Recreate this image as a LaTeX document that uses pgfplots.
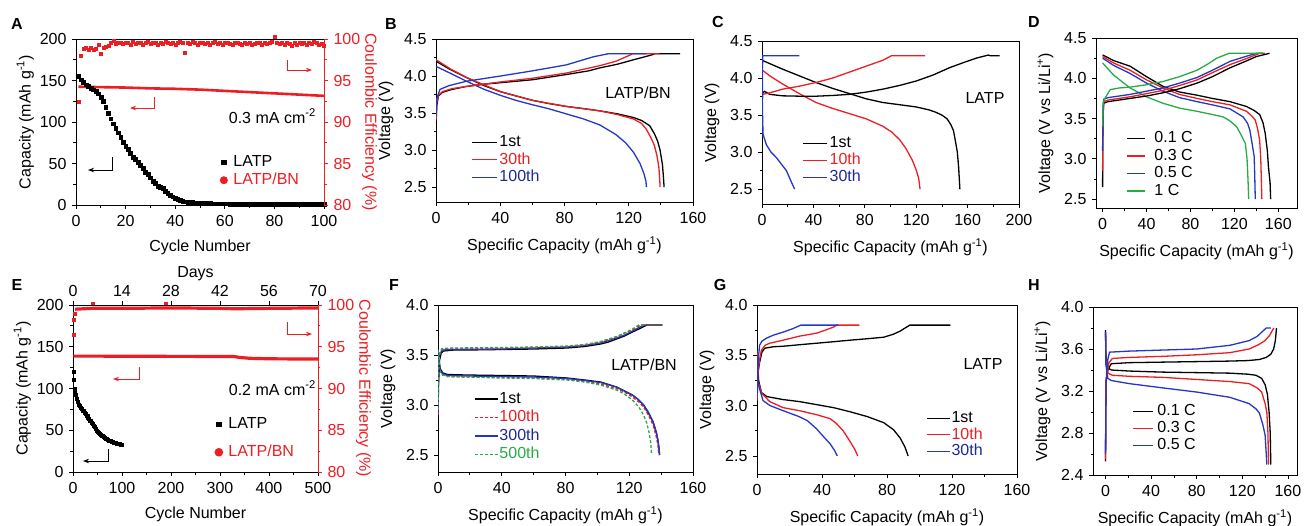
\documentclass[border=0pt]{standalone}
\usepackage{fontspec}
\setmainfont{Liberation Sans}
\setsansfont{Liberation Sans}
\usepackage{pgfplots}
\pgfplotsset{compat=1.18}
\usetikzlibrary{arrows.meta}
\definecolor{cred}{RGB}{235,30,35}
\definecolor{cblue}{RGB}{35,55,195}
\definecolor{tblue}{RGB}{30,40,150}
\definecolor{cgreen}{RGB}{40,170,70}
\newcommand\fs{\fontsize{16}{19}\selectfont}
\tikzset{cv/.style={line width=1.3pt, mark=none}}
\pgfplotsset{
  panel/.style={scale only axis, anchor=north west, font=\fs,
    tick label style={font=\fs}, label style={font=\fs},
    /pgf/number format/assume math mode=true,
    axis line style={line width=0.9pt}, tick style={line width=0.8pt, black},
    major tick length=4pt, minor tick length=2.5pt, tick align=outside,
    xtick pos=left, ytick pos=left, minor x tick num=1, minor y tick num=1,
    xticklabel style={yshift=-1pt}, xlabel style={yshift=-2pt},
    legend cell align=left,
    legend style={draw=none, fill=none, font=\fs, anchor=north west, inner sep=0pt,
      row sep=2.5pt, column sep=1pt, nodes={inner sep=1pt, text height=11pt, text depth=2pt}},
    legend image code/.code={\draw[##1] (0pt,0pt) -- (24pt,0pt);},
  },
  vfmt/.style={yticklabel style={/pgf/number format/.cd, fixed, fixed zerofill, precision=1}},
  caplabel/.style={xlabel={Specific Capacity (mAh g\textsuperscript{-1})}},
  redright/.style={axis x line=none, axis y line*=right, tick align=outside,
    ytick pos=right, yticklabel pos=right, ylabel shift=-9pt,
    ylabel={Coulombic Efficiency (\%)}, ylabel style={rotate=180, text=cred},
    y axis line style={cred}, ytick style={cred}, yticklabel style={text=cred},
    ymin=80, ymax=100, ytick={80,85,...,100}, clip=false},
  sqleg/.style={legend image code/.code={\draw[black, mark=square*, mark size=2.2pt] plot coordinates {(5pt,0pt)};}},
  ciyleg/.style={legend image code/.code={\draw[cred, fill=cred, mark=*, mark size=2.6pt] plot coordinates {(5pt,0pt)};}},
}
\begin{document}
\fs
\begin{tikzpicture}
% ---------------- A ----------------
\begin{axis}[panel, at={(76pt,-39pt)}, width=248pt, height=166pt,
  axis x line*=box, axis y line*=left, tick align=outside, ylabel shift=-5pt,
  xmin=0, xmax=100, ymin=0, ymax=200, xtick={0,20,...,100}, ytick={0,50,...,200},
  xlabel={Cycle Number}, ylabel={Capacity (mAh g\textsuperscript{-1})},
  legend style={at={(0.585,0.304)}, row sep=3pt, column sep=6pt}]
\addplot[only marks, mark=square*, mark size=1.9pt, black, sqleg] coordinates {
(1,155)(2,151)(3,148)(4,145)(5,143)(6,141)(7,139)(8,137)(9,134)(10,130)
(11,125)(12,118)(13,111)(14,104)(15,98)(16,93)(17,87)(18,82)(19,76)(20,71)
(21,67)(22,62)(23,58)(24,55)(25,52)(26,48)(27,44)(28,40)(29,37)(30,33)
(31,29)(32,26)(33,23)(34,21)(35,20)(36,17)(37,14)(38,12)(39,10)(40,8)
(41,7)(42,6)(43,5)(44,4)(45,3.5)(46,3)(47,3)(48,2.5)(49,2.5)(50,2)
(51,1.8)(52,1.8)(53,1.7)(54,1.7)(55,1.6)(56,1.6)(57,1.5)(58,1.5)(59,1.5)(60,1.5)
(61,1.5)(62,1.4)(63,1.4)(64,1.4)(65,1.4)(66,1.3)(67,1.3)(68,1.3)(69,1.3)(70,1.3)
(71,1.2)(72,1.2)(73,1.2)(74,1.2)(75,1.2)(76,1.2)(77,1.1)(78,1.1)(79,1.1)(80,1.1)
(81,1.1)(82,1.1)(83,1.0)(84,1.0)(85,1.0)(86,1.0)(87,1.0)(88,1.0)(89,1.0)(90,1.0)
(91,1.0)(92,1.0)(93,1.0)(94,1.0)(95,1.0)(96,1.0)(97,1.0)(98,1.0)(99,1.0)(100,1.0)};
\addlegendentry{LATP}
\addplot[cred, line width=2.6pt, mark=none, ciyleg] coordinates {
(1,142.5)(10,142)(20,141.5)(30,140.5)(40,140)(50,139)(60,137.5)(70,136)(80,134.5)(90,133)(100,131.5)};
\addlegendentry{\textcolor{cred}{LATP/BN}}
\end{axis}
\begin{axis}[panel, at={(76pt,-39pt)}, width=248pt, height=166pt, redright,
  xmin=0, xmax=100]
\addplot[only marks, mark=square*, mark size=1.5pt, cred] coordinates {
(1,92.5)(2,98.0)(3,98.8)(4,98.9)(5,98.7)(6,98.9)(7,98.7)(8,98.8)(9,99.3)(10,98.2)
(11,98.9)(12,99.1)(13,99.2)(14,99.5)(15,99.8)(16,99.4)(17,99.6)(18,99.5)(19,99.4)(20,99.6)
(21,99.5)(22,99.3)(23,99.7)(24,99.4)(25,99.5)(26,99.6)(27,99.3)(28,99.5)(29,99.7)(30,99.4)
(31,99.6)(32,99.5)(33,99.3)(34,99.6)(35,99.4)(36,99.7)(37,99.5)(38,99.4)(39,99.6)(40,99.3)
(41,99.5)(42,99.7)(43,99.5)(44,98.4)(45,99.6)(46,99.4)(47,99.7)(48,99.5)(49,99.3)(50,99.6)
(51,99.5)(52,99.4)(53,99.6)(54,99.3)(55,99.5)(56,99.7)(57,99.4)(58,99.5)(59,99.3)(60,99.6)
(61,99.5)(62,99.4)(63,99.3)(64,99.5)(65,99.6)(66,99.4)(67,99.3)(68,99.5)(69,99.4)(70,99.6)
(71,99.3)(72,99.4)(73,99.5)(74,99.6)(75,99.3)(76,99.5)(77,99.4)(78,99.6)(79,99.7)(80,100.3)
(81,99.5)(82,99.4)(83,99.6)(84,99.3)(85,99.5)(86,99.4)(87,99.2)(88,99.5)(89,99.3)(90,99.6)
(91,99.4)(92,99.5)(93,99.3)(94,99.6)(95,99.4)(96,99.7)(97,99.5)(98,99.3)(99,99.4)(100,99.2)};
\end{axis}
% ---------------- B ----------------
\begin{axis}[panel, vfmt, caplabel, at={(436pt,-39pt)}, width=257pt, height=163pt,
  xmin=0, xmax=160, ymin=2.3, ymax=4.5, xtick={0,40,...,160}, ytick={2.5,3,...,4.5},
  ylabel={Voltage (V)}, legend style={at={(0.136,0.414)}},
  legend image code/.code={\draw[#1] (0pt,0pt) -- (25pt,0pt);}]
\addplot[cv, black] coordinates {(0,4.2)(8.7,4.09)(19,3.98)(30,3.87)(40,3.79)(50,3.73)(60.5,3.67)(70,3.63)(81,3.59)(92,3.56)(102,3.53)(113,3.49)(123,3.44)(128,3.4)(133,3.33)(136,3.22)(138,3.12)(139.5,3.0)(141,2.8)(141.7,2.6)(142,2.5)};
\addlegendentry{1st}
\addplot[cv, cred] coordinates {(0,4.22)(8.7,4.1)(19,3.98)(40,3.79)(60.5,3.67)(81,3.59)(102,3.53)(113,3.48)(123,3.42)(128,3.36)(131,3.28)(134,3.16)(136,3.06)(137.5,2.93)(138.7,2.78)(139.3,2.6)(139.5,2.5)};
\addlegendentry{\textcolor{cred}{30th}}
\addplot[cv, cblue] coordinates {(0,4.13)(8.7,4.04)(19,3.93)(30,3.82)(40,3.74)(50,3.67)(60.5,3.61)(70,3.56)(81,3.49)(92,3.42)(102,3.34)(112,3.21)(118,3.1)(123,2.97)(127,2.82)(129.5,2.68)(130.7,2.58)(131,2.5)};
\addlegendentry{\textcolor{tblue}{100th}}
\addplot[cv, black, forget plot] coordinates {(0,3.33)(0.5,3.6)(1.5,3.73)(4,3.78)(10,3.82)(19,3.86)(30,3.89)(40,3.91)(60,3.95)(81,4.02)(95,4.07)(102,4.11)(113,4.16)(123,4.22)(130,4.26)(135,4.29)(136,4.3)(152,4.3)};
\addplot[cv, cred, forget plot] coordinates {(0,3.4)(0.5,3.65)(1.5,3.74)(4,3.79)(10,3.83)(19,3.86)(40,3.92)(60,3.97)(81,4.04)(102,4.14)(112,4.2)(121.5,4.29)(122,4.3)(139,4.3)};
\addplot[cv, cblue, forget plot] coordinates {(0,3.45)(0.5,3.7)(2.5,3.82)(8,3.87)(19,3.93)(40,4.0)(60,4.07)(81,4.15)(98,4.26)(107,4.3)(131,4.3)};
\end{axis}
% ---------------- C ----------------
\begin{axis}[panel, vfmt, caplabel, at={(762pt,-41pt)}, width=257pt, height=163pt,
  xmin=0, xmax=200, ymin=2.3, ymax=4.5, xtick={0,40,...,200}, ytick={2.5,3,...,4.5},
  ylabel={Voltage (V)}, legend style={at={(0.156,0.42)}, row sep=2pt}]
\addplot[cv, black] coordinates {(0,4.24)(8,4.18)(16,4.12)(29,4.03)(42,3.94)(55,3.86)(68,3.79)(81,3.72)(94,3.67)(107,3.64)(120,3.61)(130,3.57)(135,3.54)(140,3.5)(144,3.45)(147,3.37)(149,3.29)(150.5,3.15)(152,3.0)(153,2.8)(153.5,2.65)(154,2.5)};
\addlegendentry{1st}
\addplot[cv, cred] coordinates {(0.8,4.1)(6,4.03)(16,3.92)(29,3.79)(42,3.67)(55,3.59)(68,3.52)(81,3.45)(94,3.35)(101,3.27)(107,3.17)(112,3.05)(117,2.89)(120,2.76)(122,2.64)(123,2.5)};
\addlegendentry{\textcolor{cred}{10th}}
\addplot[cv, cblue] coordinates {(0,4.28)(0.3,3.6)(0.8,3.24)(3.4,3.1)(7,3.0)(11,2.93)(15,2.84)(19,2.75)(22,2.63)(25.4,2.5)};
\addlegendentry{\textcolor{tblue}{30th}}
\addplot[cv, black, forget plot] coordinates {(0,3.6)(0.5,3.8)(2,3.82)(6,3.78)(16,3.76)(30,3.755)(42,3.755)(55,3.765)(68,3.78)(81,3.81)(94,3.85)(107,3.9)(120,3.96)(133,4.04)(146,4.14)(157,4.21)(167,4.27)(176,4.31)(178,4.3)(185,4.3)};
\addplot[cv, cred, forget plot] coordinates {(0,3.7)(0.5,3.78)(6,3.8)(16,3.85)(29,3.89)(42,3.94)(55,4.0)(68,4.08)(81,4.16)(94,4.24)(100.6,4.3)(127,4.3)};
\addplot[cv, cblue, forget plot] coordinates {(0,3.2)(0.3,3.8)(0.5,4.3)(29,4.3)};
\end{axis}
% ---------------- D ----------------
\begin{axis}[panel, vfmt, caplabel, at={(1096pt,-38pt)}, width=201pt, height=170pt,
  xmin=-6, xmax=177, ymin=2.39, ymax=4.5, xtick={0,40,...,160}, ytick={2.5,3,...,4.5},
  ylabel={Voltage (V vs Li/Li\textsuperscript{+})},
  legend style={at={(0.149,0.455)}, row sep=2.5pt, column sep=8pt},
  legend image code/.code={\draw[#1] (0pt,0pt) -- (18pt,0pt);}]
\addplot[cv, black] coordinates {(0,4.29)(10,4.22)(25,4.15)(40,4.02)(55,3.9)(70,3.83)(86,3.79)(100,3.75)(116,3.71)(131,3.65)(138,3.6)(143,3.55)(146,3.45)(148,3.32)(150,3.1)(151,2.9)(152.5,2.7)(153,2.5)};
\addlegendentry{0.1 C}
\addplot[cv, cred] coordinates {(0,4.27)(10,4.19)(25,4.1)(40,3.98)(55,3.88)(70,3.8)(86,3.75)(100,3.71)(116,3.67)(131,3.59)(136,3.53)(139,3.48)(141,3.38)(143,3.23)(144,3.0)(144.5,2.75)(145,2.5)};
\addlegendentry{0.3 C}
\addplot[cv, cblue] coordinates {(0,4.25)(10,4.16)(25,4.06)(40,3.94)(55,3.84)(70,3.76)(86,3.71)(100,3.67)(116,3.62)(128,3.52)(132,3.44)(134,3.36)(136,3.2)(138,3.03)(138.5,2.8)(139,2.5)};
\addlegendentry{0.5 C}
\addplot[cv, cgreen] coordinates {(0,4.19)(10,4.04)(25,3.88)(40,3.77)(55,3.69)(70,3.63)(86,3.59)(100,3.55)(110,3.52)(116,3.47)(122,3.4)(126,3.3)(130,3.19)(131.5,3.0)(132,2.86)(132.5,2.7)(133,2.5)};
\addlegendentry{1 C}
\addplot[cv, black, forget plot] coordinates {(0,2.65)(0.3,3.5)(1,3.69)(5,3.71)(15,3.73)(25,3.75)(40,3.78)(55,3.82)(70,3.87)(86,3.94)(100,4.02)(116,4.13)(130,4.21)(140,4.27)(152,4.31)};
\addplot[cv, cred, forget plot] coordinates {(0,2.85)(0.3,3.5)(1,3.71)(5,3.73)(15,3.75)(25,3.77)(40,3.81)(55,3.85)(70,3.91)(86,3.98)(100,4.07)(116,4.17)(130,4.24)(143,4.31)(148,4.31)};
\addplot[cv, cblue, forget plot] coordinates {(0,3.1)(0.3,3.55)(1,3.74)(5,3.76)(15,3.78)(25,3.8)(40,3.84)(55,3.88)(70,3.94)(86,4.01)(100,4.1)(116,4.21)(130,4.27)(140,4.31)(146,4.31)};
\addplot[cv, cgreen, forget plot] coordinates {(0,3.4)(0.5,3.7)(2,3.75)(7,3.86)(15,3.88)(25,3.89)(40,3.92)(55,3.96)(70,4.02)(86,4.1)(95,4.17)(104,4.25)(115,4.31)(146,4.31)};
\end{axis}
% ---------------- E ----------------
\begin{axis}[panel, at={(73pt,-305pt)}, width=245pt, height=167pt,
  axis x line*=box, axis y line*=left, tick align=outside, ylabel shift=-5pt,
  xmin=0, xmax=500, ymin=0, ymax=200, xtick={0,100,...,500}, ytick={0,50,...,200},
  xlabel={Cycle Number}, ylabel={Capacity (mAh g\textsuperscript{-1})},
  legend style={at={(0.584,0.332)}, row sep=13pt, column sep=6pt}]
\addplot[only marks, mark=square*, mark size=1.5pt, black, sqleg] coordinates {
(1,120)(2,110)(3,100)(4,95)(5,92)(7,88)(9,84)(11,81)(13,79)(15,77)(17,76)(19,74)
(21,73)(23,71)(25,70)(27,68)(29,67)(31,65)(33,64)(35,62)(37,61)(39,59)(41,58)(43,56)
(45,54)(47,52)(49,50)(51,48)(53,47)(55,46)(57,45)(59,44)(61,43)(63,42)(65,41)(67,40)
(69,39.5)(71,39)(73,38)(75,37.5)(77,37)(79,36.5)(81,36)(83,35.5)(85,35)(87,34.5)
(89,34)(91,34)(93,33.5)(95,33.5)(97,33)(99,33)(100,33)};
\addlegendentry{LATP}
\addplot[cred, line width=3.2pt, mark=none, ciyleg] coordinates {
(1,138.8)(50,138.8)(100,138.6)(200,138.5)(300,138.4)(330,138.2)(340,137.2)(360,136.2)(400,135.6)(420,135.5)(500,135.3)};
\addlegendentry{\textcolor{cred}{LATP/BN}}
\end{axis}
\begin{axis}[panel, at={(73pt,-305pt)}, width=245pt, height=167pt, redright,
  xmin=0, xmax=500]
\addplot[only marks, mark=square*, mark size=1.5pt, cred] coordinates {(1,96.5)(2,98.3)(3,99.0)(40,100.1)(190,100.2)};
\addplot[cred, line width=3.2pt, mark=none] coordinates {(4,99.5)(40,99.6)(100,99.6)(200,99.65)(300,99.6)(330,99.55)(400,99.6)(500,99.65)};
\end{axis}
\begin{axis}[panel, at={(73pt,-305pt)}, width=245pt, height=167pt,
  axis x line*=top, axis y line=none, tick align=outside, minor x tick num=0,
  xtick pos=right, xticklabel pos=right, xticklabel style={yshift=0pt}, xlabel style={yshift=-5pt},
  xmin=0, xmax=70, xtick={0,14,...,70}, ymin=0, ymax=1, xlabel={Days}]
\end{axis}
% ---------------- F ----------------
\begin{axis}[panel, vfmt, caplabel, at={(438pt,-305pt)}, width=255pt, height=167pt,
  xmin=0, xmax=160, ymin=2.33, ymax=4.0, xtick={0,40,...,160}, ytick={2.5,3,...,4.0},
  ylabel={Voltage (V)}, legend style={at={(0.141,0.484)}, row sep=3.5pt, column sep=0pt},
  legend image code/.code={\draw[#1] (0pt,0pt) -- (23pt,0pt);}]
\addplot[cv, black] coordinates {(0,3.56)(0.5,3.45)(1.5,3.36)(3,3.32)(6,3.305)(18,3.3)(40,3.295)(60,3.29)(81,3.27)(92,3.25)(102,3.23)(112,3.18)(117,3.14)(122,3.1)(126,3.05)(129,3.0)(132,2.92)(135,2.83)(137,2.72)(138,2.64)(138.7,2.56)(139,2.5)};
\addlegendentry{1st}
\addplot[cv, cred, dash pattern=on 3pt off 2pt] coordinates {(0,3.55)(0.5,3.42)(1.5,3.33)(3,3.3)(6,3.285)(18,3.28)(40,3.275)(60,3.27)(81,3.255)(92,3.235)(102,3.21)(112,3.165)(117,3.13)(122,3.08)(126,3.03)(129,2.98)(132,2.9)(135,2.8)(137,2.68)(138,2.6)(138.5,2.5)};
\addlegendentry{\textcolor{cred}{100th}}
\addplot[cv, cblue] coordinates {(0,3.55)(0.5,3.43)(1.5,3.34)(3,3.31)(6,3.295)(18,3.29)(40,3.285)(60,3.28)(81,3.265)(92,3.245)(102,3.225)(112,3.18)(117,3.14)(122,3.1)(126,3.05)(129,3.0)(132,2.93)(135,2.83)(137,2.73)(138,2.65)(138.8,2.56)(139,2.5)};
\addlegendentry{\textcolor{tblue}{300th}}
\addplot[cv, cgreen, dash pattern=on 3pt off 2pt] coordinates {(0,3.55)(0.5,3.42)(1.5,3.33)(3,3.3)(6,3.285)(18,3.28)(40,3.27)(60,3.265)(81,3.25)(92,3.23)(102,3.2)(112,3.15)(117,3.11)(122,3.05)(126,2.98)(129,2.9)(131,2.82)(132.5,2.72)(133.5,2.62)(134,2.5)};
\addlegendentry{\textcolor{cgreen}{500th}}
\addplot[cv, black, forget plot] coordinates {(0,2.85)(0.3,3.2)(1,3.45)(2,3.52)(3.5,3.54)(10,3.55)(18,3.55)(40,3.555)(60,3.56)(81,3.57)(92,3.585)(102,3.61)(107,3.63)(112,3.66)(117,3.69)(122,3.73)(126,3.76)(131,3.8)(141,3.8)};
\addplot[cv, cblue, forget plot] coordinates {(0,2.9)(0.3,3.3)(1,3.5)(2.5,3.55)(10,3.555)(40,3.56)(60,3.57)(81,3.58)(92,3.595)(102,3.62)(112,3.67)(117,3.7)(122,3.74)(128,3.79)(129,3.8)(132,3.8)};
\addplot[cv, cred, dash pattern=on 3pt off 2pt, forget plot] coordinates {(0,2.9)(0.3,3.3)(1,3.5)(2.5,3.56)(10,3.565)(40,3.57)(60,3.575)(81,3.585)(92,3.6)(102,3.63)(112,3.68)(117,3.72)(122,3.75)(127,3.8)(132,3.8)};
\addplot[cv, cgreen, dash pattern=on 3pt off 2pt, forget plot] coordinates {(0,2.95)(0.3,3.35)(1,3.52)(2.5,3.565)(10,3.57)(40,3.575)(60,3.58)(81,3.59)(92,3.605)(102,3.635)(112,3.685)(117,3.72)(122,3.76)(126,3.8)(130,3.8)};
\end{axis}
% ---------------- G ----------------
\begin{axis}[panel, vfmt, caplabel, at={(757pt,-305pt)}, width=260pt, height=169pt,
  xmin=0, xmax=160, ymin=2.32, ymax=4.0, xtick={0,40,...,160}, ytick={2.5,3,...,4.0},
  ylabel={Voltage (V)}, legend style={at={(0.65,0.376)}, row sep=1.5pt, column sep=0pt},
  legend image code/.code={\draw[#1] (0pt,0pt) -- (23pt,0pt);}]
\addplot[cv, black] coordinates {(0,3.6)(0.3,3.45)(1,3.25)(2.7,3.13)(6,3.09)(16,3.06)(26,3.04)(36.6,3.01)(47,2.98)(57,2.94)(68,2.89)(78,2.83)(84,2.76)(88,2.68)(91,2.59)(93,2.5)};
\addlegendentry{1st}
\addplot[cv, cred] coordinates {(0,3.55)(0.3,3.4)(1,3.22)(3,3.12)(7.8,3.04)(16,2.98)(26,2.95)(36.6,2.91)(45,2.87)(49,2.82)(53,2.75)(57,2.65)(60,2.57)(62,2.5)};
\addlegendentry{\textcolor{cred}{10th}}
\addplot[cv, cblue] coordinates {(0,3.5)(0.3,3.35)(1,3.2)(3.7,3.05)(8,3.0)(16,2.95)(26,2.89)(31,2.85)(36.6,2.77)(41,2.69)(45,2.62)(47.5,2.56)(49.4,2.5)};
\addlegendentry{\textcolor{tblue}{30th}}
\addplot[cv, black, forget plot] coordinates {(0,2.95)(0.3,3.2)(0.8,3.35)(1.6,3.43)(3,3.53)(4.7,3.57)(10,3.585)(16,3.59)(26,3.605)(36.6,3.62)(47,3.635)(57,3.65)(68,3.665)(78,3.68)(84,3.71)(88,3.74)(91,3.77)(94,3.8)(119,3.8)};
\addplot[cv, cred, forget plot] coordinates {(0,3.05)(0.5,3.3)(1.5,3.45)(2.7,3.55)(5,3.6)(7.8,3.62)(16,3.65)(26,3.69)(36.6,3.72)(42,3.75)(47,3.78)(49,3.8)(63,3.8)};
\addplot[cv, cblue, forget plot] coordinates {(0,3.1)(0.5,3.35)(1,3.5)(1.6,3.6)(3,3.64)(5.8,3.67)(10,3.7)(16,3.73)(22,3.765)(27,3.8)(50,3.8)};
\end{axis}
% ---------------- H ----------------
\begin{axis}[panel, vfmt, caplabel, at={(1093pt,-307pt)}, width=204pt, height=168pt,
  xmin=-11, xmax=168, ymin=2.4, ymax=4.0, xtick={0,40,...,160}, ytick={2.4,2.8,...,4.0},
  ylabel={Voltage (V vs Li/Li\textsuperscript{+})},
  legend style={at={(0.191,0.425)}, row sep=2pt, column sep=3pt},
  legend image code/.code={\draw[#1] (0pt,0pt) -- (20pt,0pt);}]
\addplot[cv, black] coordinates {(0,3.78)(0.3,3.55)(2,3.42)(5,3.4)(21,3.39)(50,3.38)(80,3.375)(109,3.37)(125,3.36)(132,3.35)(137,3.32)(140,3.26)(142,3.17)(143.5,3.0)(144.5,2.8)(145,2.5)};
\addlegendentry{0.1 C}
\addplot[cv, cred] coordinates {(0,3.76)(0.3,3.5)(2,3.37)(6,3.35)(21,3.34)(50,3.33)(80,3.31)(109,3.29)(126,3.27)(133,3.23)(137,3.19)(140,3.08)(141.5,3.0)(142.5,2.8)(143,2.5)};
\addlegendentry{0.3 C}
\addplot[cv, cblue] coordinates {(0,3.76)(0.3,3.45)(2,3.32)(5,3.3)(21,3.27)(50,3.23)(80,3.19)(109,3.14)(126,3.08)(132,3.03)(135,2.99)(138,2.88)(140,2.78)(141,2.6)(141.5,2.5)};
\addlegendentry{0.5 C}
\addplot[cv, black, forget plot] coordinates {(0,2.53)(0.2,3.0)(0.5,3.3)(2,3.4)(5,3.46)(21,3.47)(50,3.475)(80,3.48)(109,3.485)(125,3.49)(135,3.5)(141,3.52)(145,3.55)(147.5,3.6)(149,3.68)(150,3.8)};
\addplot[cv, cred, forget plot] coordinates {(0,2.55)(0.2,3.0)(0.5,3.3)(3,3.47)(6,3.51)(21,3.52)(50,3.53)(80,3.545)(109,3.565)(126,3.6)(134,3.64)(140,3.68)(144,3.73)(146.5,3.78)(147.7,3.8)};
\addplot[cv, cblue, forget plot] coordinates {(0,2.6)(0.2,3.05)(0.5,3.3)(2,3.5)(3.5,3.57)(21,3.58)(50,3.59)(80,3.6)(109,3.635)(126,3.68)(133,3.72)(138,3.77)(141,3.8)(145,3.8)};
\end{axis}
% ---------------- annotations ----------------
\tikzset{arr/.style={line width=1pt, -{Stealth[length=6pt,width=4.5pt]}}}
\draw[arr, black] (112pt,-157pt) -- (112pt,-170pt) -- (88pt,-170pt);
\draw[arr, cred] (154pt,-97pt) -- (154pt,-108pt) -- (130pt,-108pt);
\draw[arr, cred] (287pt,-60pt) -- (287pt,-70pt) -- (312pt,-70pt);
\draw[arr, black] (108pt,-449pt) -- (108pt,-461pt) -- (83pt,-461pt);
\draw[arr, cred] (139pt,-367pt) -- (139pt,-379pt) -- (113pt,-379pt);
\draw[arr, cred] (287pt,-322pt) -- (287pt,-334pt) -- (312pt,-334pt);
\node[anchor=base east, inner sep=0pt] at (316pt,-123pt) {0.3 mA cm\textsuperscript{-2}};
\node[anchor=base east, inner sep=0pt] at (316pt,-395pt) {0.2 mA cm\textsuperscript{-2}};
\node[anchor=base, inner sep=0pt] at (638pt,-98pt) {LATP/BN};
\node[anchor=base, inner sep=0pt] at (985pt,-103pt) {LATP};
\node[anchor=base, inner sep=0pt] at (644pt,-370pt) {LATP/BN};
\node[anchor=base, inner sep=0pt] at (983pt,-369pt) {LATP};
\foreach \l/\x/\y in {A/17/24, B/391/24, C/718/22, D/1034/22, E/17/285, F/394/285, G/720/285, H/1034/285}
  \node[font=\fs\bfseries, inner sep=0pt] at (\x pt,-\y pt) {\l};
\pgfresetboundingbox
\path[use as bounding box] (0pt,0pt) rectangle (1308pt,-525pt);
\end{tikzpicture}
\end{document}
